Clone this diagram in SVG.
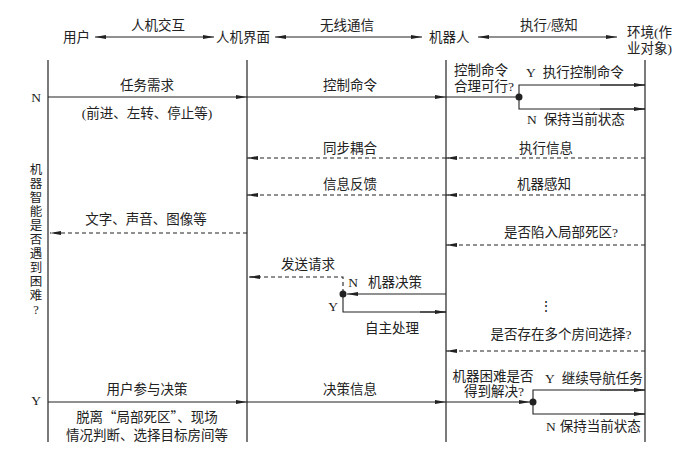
<svg xmlns="http://www.w3.org/2000/svg" width="700" height="461" viewBox="0 0 700 461">
<style>
text{font-family:"Liberation Serif","Noto Sans CJK SC",serif;font-size:13.5px;fill:#222}
.cjk{font-family:"Noto Sans CJK SC","Liberation Serif",sans-serif}
.v{font-size:12.5px}
.m{text-anchor:middle}
.e{text-anchor:end}
.ln{stroke:#222;stroke-width:1.1;fill:none}
.ll{stroke:#222;stroke-width:1.2;fill:none}
.d{stroke:#222;stroke-width:1.1;fill:none;stroke-dasharray:4 3}
</style>
<defs>
<marker id="ah" markerUnits="userSpaceOnUse" markerWidth="12" markerHeight="6" refX="11" refY="3" orient="auto-start-reverse">
<path d="M0,1 L11,3 L0,5 Z" fill="#222"/>
</marker>
</defs>
<rect width="700" height="461" fill="#fff"/>

<g id="user">
<text class="e" x="90" y="42">用户</text>
<line class="ll" x1="48" y1="60" x2="48" y2="442"/>
</g>
<g id="hmi">
<text x="216" y="42">人机界面</text>
<line class="ll" x1="247" y1="60" x2="247" y2="442"/>
</g>
<g id="robot">
<text x="429" y="42">机器人</text>
<line class="ll" x1="446" y1="60" x2="446" y2="442"/>
</g>
<g id="env">
<text x="627" y="37">环境(作</text>
<text x="627" y="53">业对象)</text>
<line class="ll" x1="645" y1="60" x2="645" y2="442"/>
</g>

<g id="side-labels">
<text class="m" x="36" y="102">N</text>
<text class="m" x="36" y="405">Y</text>
<text class="m v" x="36">
<tspan x="36" y="174">机</tspan><tspan x="36" y="188">器</tspan><tspan x="36" y="202">智</tspan><tspan x="36" y="216">能</tspan><tspan x="36" y="230">是</tspan><tspan x="36" y="244">否</tspan><tspan x="36" y="258">遇</tspan><tspan x="36" y="272">到</tspan><tspan x="36" y="286">困</tspan><tspan x="36" y="300">难</tspan><tspan x="36" y="314">?</tspan>
</text>
</g>

<g id="connectors">
<line class="ln" x1="95" y1="37" x2="214" y2="37" marker-start="url(#ah)" marker-end="url(#ah)"/>
<line class="ln" x1="275" y1="37" x2="422" y2="37" marker-start="url(#ah)" marker-end="url(#ah)"/>
<line class="ln" x1="478" y1="37" x2="617" y2="37" marker-start="url(#ah)" marker-end="url(#ah)"/>
<line class="ln" x1="48" y1="97" x2="247" y2="97" marker-end="url(#ah)"/>
<line class="ln" x1="247" y1="97" x2="446" y2="97" marker-end="url(#ah)"/>
<line class="ln" x1="446" y1="97" x2="519" y2="97"/>
<polyline class="ln" points="645,85 519,85 519,109 645,109"/>
<line class="ln" x1="600" y1="85" x2="645" y2="85" marker-end="url(#ah)"/>
<line class="ln" x1="600" y1="109" x2="645" y2="109" marker-end="url(#ah)"/>
<circle cx="519" cy="97" r="3.5" fill="#222"/>
<line class="d" x1="446" y1="158" x2="247" y2="158" marker-end="url(#ah)"/>
<line class="d" x1="645" y1="158" x2="446" y2="158" marker-end="url(#ah)"/>
<line class="d" x1="446" y1="195" x2="247" y2="195" marker-end="url(#ah)"/>
<line class="d" x1="645" y1="195" x2="446" y2="195" marker-end="url(#ah)"/>
<line class="d" x1="247" y1="233" x2="50" y2="233" marker-end="url(#ah)"/>
<line class="d" x1="645" y1="245" x2="446" y2="245" marker-end="url(#ah)"/>
<polyline class="d" points="343,293 343,277 249,277"/>
<line class="d" x1="260" y1="277" x2="249" y2="277" marker-end="url(#ah)"/>
<line class="ln" x1="446" y1="294" x2="347" y2="294" marker-end="url(#ah)"/>
<polyline class="ln" points="343,294 343,312 446,312"/>
<line class="ln" x1="420" y1="312" x2="446" y2="312" marker-end="url(#ah)"/>
<circle cx="343" cy="294" r="3.5" fill="#222"/>
<line class="d" x1="645" y1="351" x2="446" y2="351" marker-end="url(#ah)"/>
<line class="ln" x1="48" y1="402" x2="247" y2="402" marker-end="url(#ah)"/>
<line class="ln" x1="247" y1="402" x2="446" y2="402" marker-end="url(#ah)"/>
<line class="ln" x1="446" y1="402" x2="530" y2="402" marker-end="url(#ah)"/>
<polyline class="ln" points="645,390 533,390 533,414 645,414"/>
<line class="ln" x1="600" y1="390" x2="645" y2="390" marker-end="url(#ah)"/>
<line class="ln" x1="600" y1="414" x2="645" y2="414" marker-end="url(#ah)"/>
<circle cx="533" cy="402" r="3.5" fill="#222"/>
</g>

<g id="labels">
<text class="m" x="158" y="30">人机交互</text>
<text class="m" x="347" y="30">无线通信</text>
<text class="m" x="549" y="30">执行/感知</text>

<text class="m" x="147" y="90">任务需求</text>
<text class="m" x="147" y="118">(前进、左转、停止等)</text>
<text class="m" x="350" y="90">控制命令</text>
<text x="454" y="75">控制命令</text>
<text x="454" y="91">合理可行?</text>
<text x="526" y="77">Y<tspan dx="7">执行控制命令</tspan></text>
<text x="527" y="124">N<tspan dx="7">保持当前状态</tspan></text>

<text class="m" x="350" y="153">同步耦合</text>
<text class="m" x="546" y="153">执行信息</text>
<text class="m" x="350" y="189">信息反馈</text>
<text class="m" x="544" y="189">机器感知</text>
<text class="m" x="146" y="224">文字、声音、图像等</text>
<text class="m" x="561" y="237">是否陷入局部死区?</text>

<text class="m" x="308" y="269">发送请求</text>
<text class="m" x="353" y="287">N</text>
<text x="368" y="287">机器决策</text>
<text class="m" x="333" y="311">Y</text>
<text class="m" x="392" y="333">自主处理</text>
<text class="m" x="546" y="311">⋮</text>
<text class="m" x="561" y="339">是否存在多个房间选择?</text>

<text class="m" x="147" y="394">用户参与决策</text>
<text class="m" x="350" y="394">决策信息</text>
<text class="m cjk" x="147" y="422">脱离“局部死区”、现场</text>
<text class="m" x="147" y="440">情况判断、选择目标房间等</text>
<text class="m" x="493" y="381">机器困难是否</text>
<text class="m" x="494" y="396">得到解决?</text>
<text x="545" y="383">Y<tspan dx="7">继续导航任务</tspan></text>
<text x="546" y="431">N<tspan dx="4">保持当前状态</tspan></text>
</g>
</svg>
